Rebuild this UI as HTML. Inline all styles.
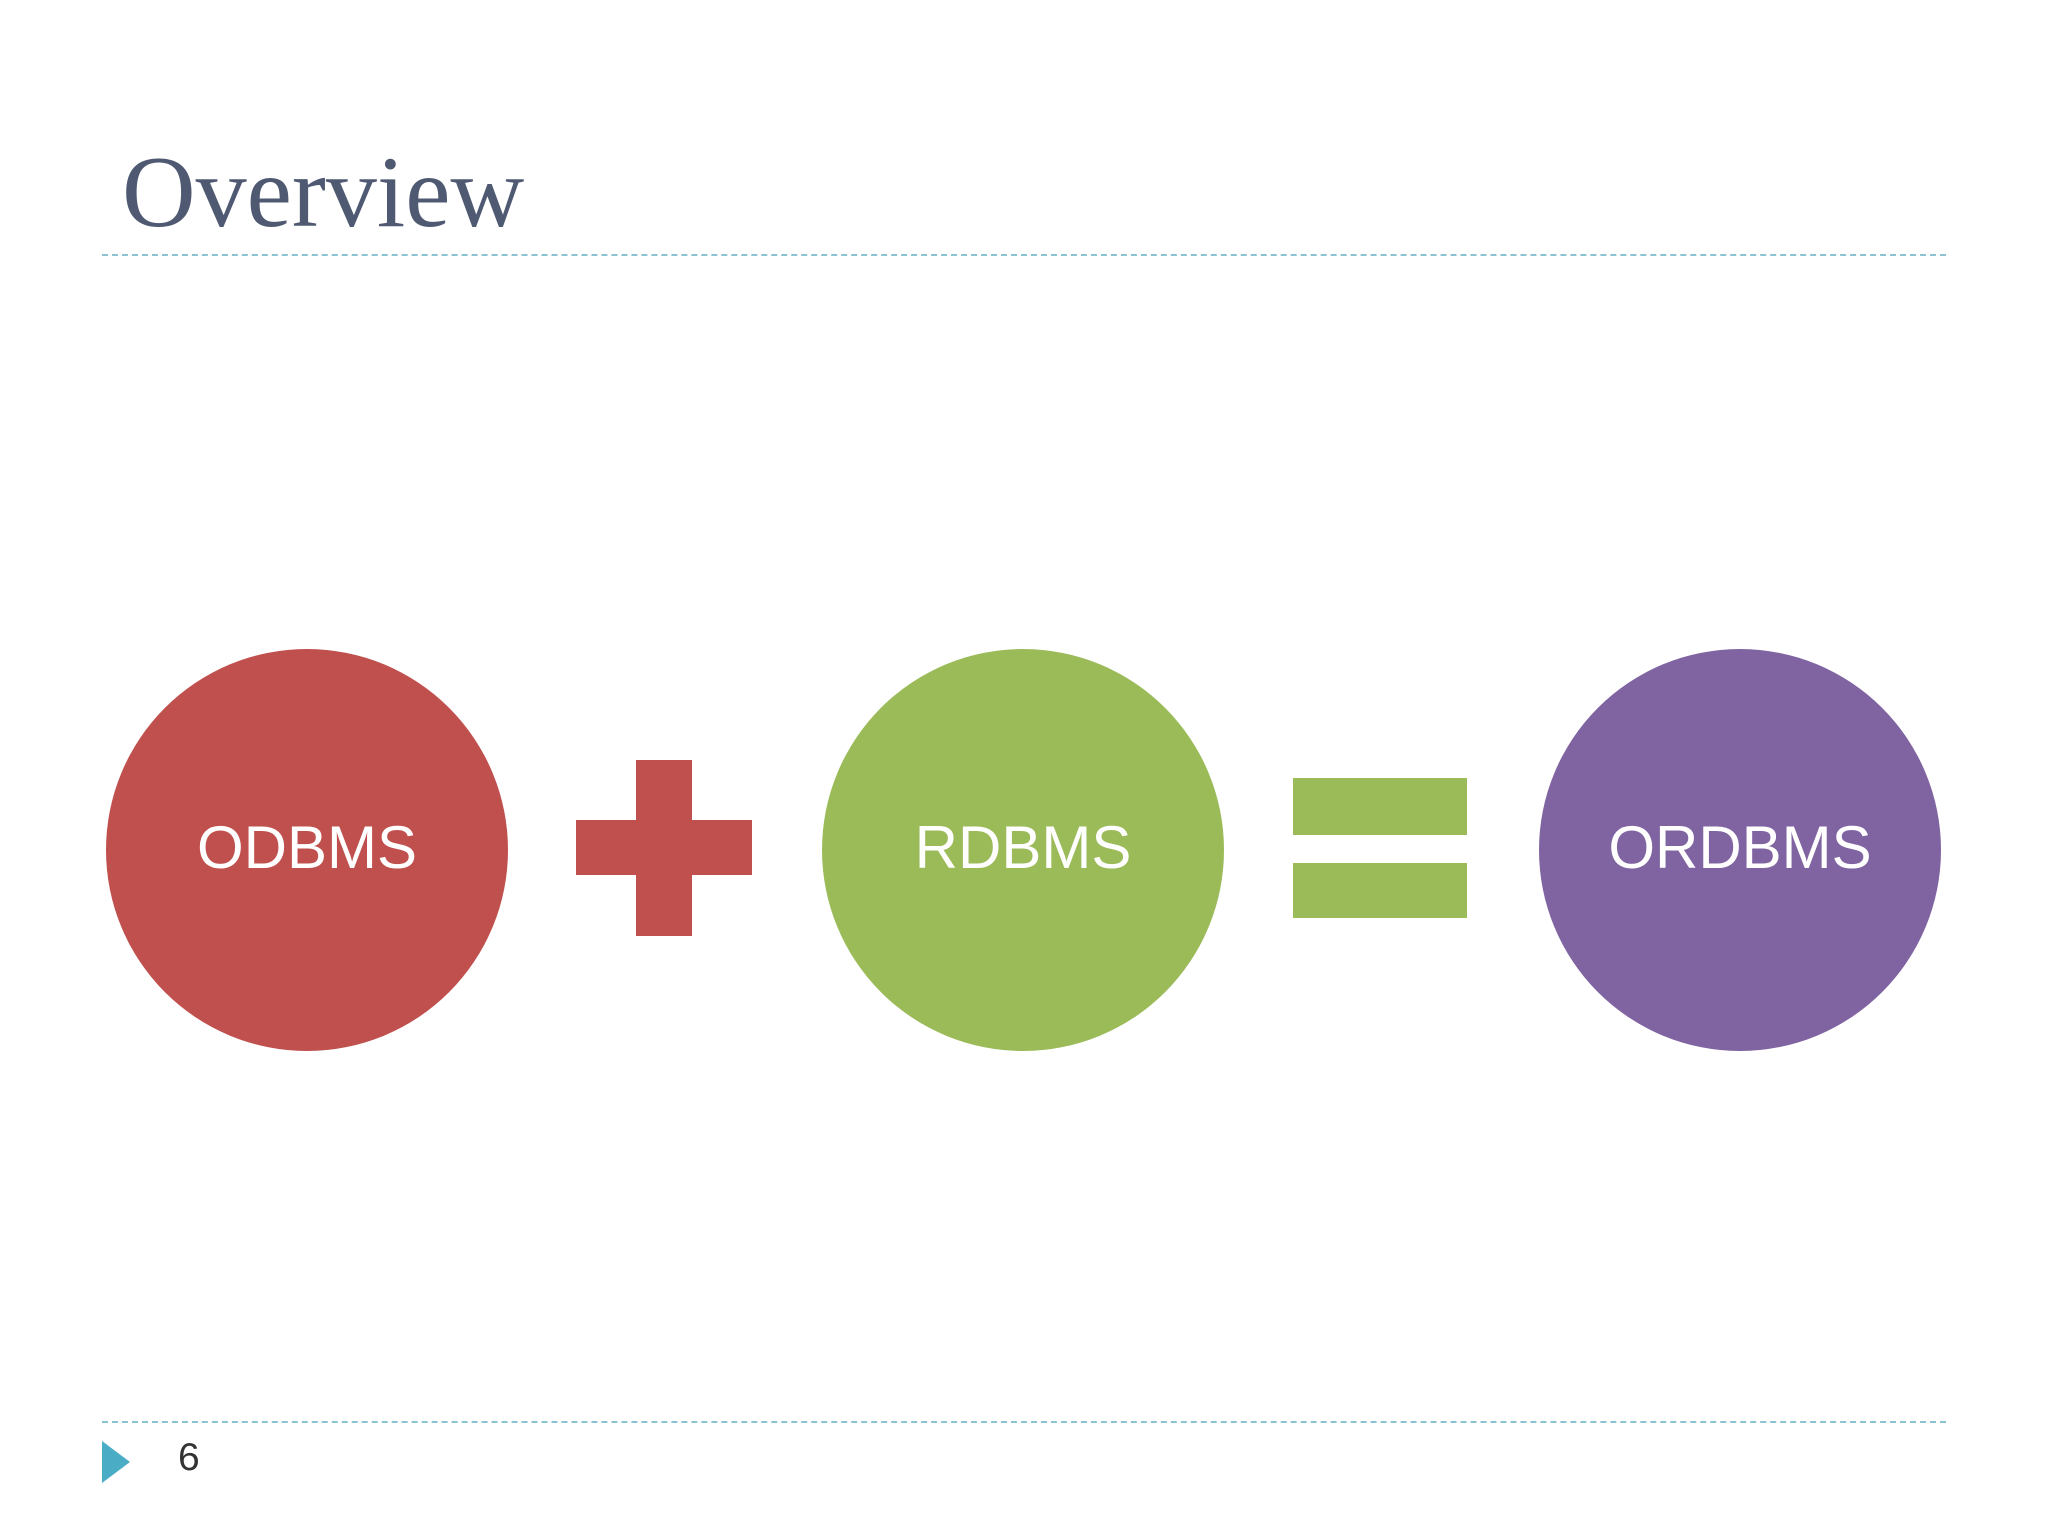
<!DOCTYPE html>
<html><head><meta charset="utf-8"><style>
html,body{margin:0;padding:0;background:#fff;}
body{width:2048px;height:1536px;position:relative;overflow:hidden;}
.t{position:absolute;left:122px;top:142px;font-family:"Liberation Serif",serif;font-size:102px;color:#4f5a72;line-height:1;}
.dl{position:absolute;left:102px;width:1844px;border-top:2px dashed #8cc3d3;height:0;}
.c{position:absolute;width:402px;height:402px;border-radius:50%;display:flex;align-items:center;justify-content:center;color:#fff;font-family:"Liberation Sans",sans-serif;font-size:60px;top:649px;}
.c span{position:relative;top:-3px;}
.r{position:absolute;}
</style></head><body>
<div class="t">Overview</div>
<div class="dl" style="top:254px"></div>
<div class="dl" style="top:1421px"></div>
<div class="c" style="left:106px;background:#c0504d"><span>ODBMS</span></div>
<div class="c" style="left:822px;background:#9bbb59"><span>RDBMS</span></div>
<div class="c" style="left:1539px;background:#8064a2"><span>ORDBMS</span></div>
<div class="r" style="left:636px;top:760px;width:56px;height:176px;background:#c0504d"></div>
<div class="r" style="left:576px;top:820px;width:176px;height:55px;background:#c0504d"></div>
<div class="r" style="left:1293px;top:778px;width:174px;height:57px;background:#9bbb59"></div>
<div class="r" style="left:1293px;top:863px;width:174px;height:55px;background:#9bbb59"></div>
<svg class="r" style="left:102px;top:1441px" width="28" height="42"><polygon points="0,0 28,21 0,42" fill="#4bacc6"/></svg>
<div class="r" style="left:178px;top:1436px;font-family:'Liberation Sans',sans-serif;font-size:39px;color:#333">6</div>
</body></html>
